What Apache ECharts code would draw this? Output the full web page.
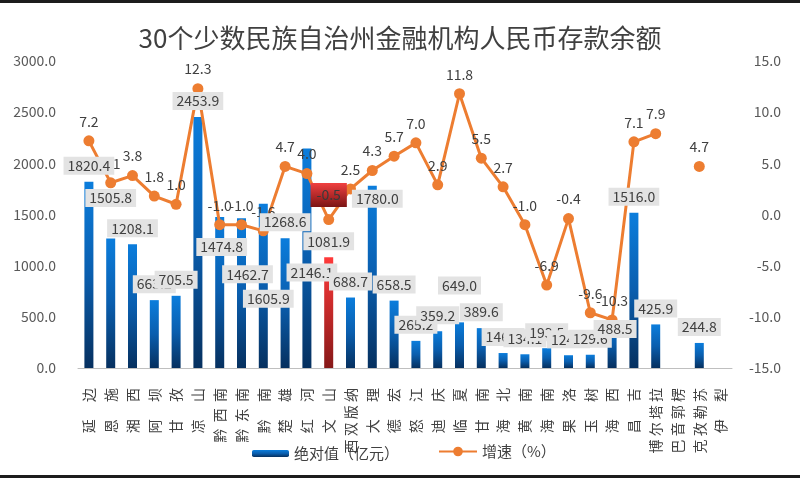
<!DOCTYPE html>
<html>
<head>
<meta charset="utf-8">
<script src="https://cdn.jsdelivr.net/npm/echarts@6/dist/echarts.min.js"></script>
<style>
html, body { margin: 0; padding: 0; background: #fff; }
#main { width: 800px; height: 478px; }
.edge { position: absolute; left: 0; width: 800px; height: 3px; background: #1c1c1c; }
</style>
</head>
<body>
<div id="main"></div>
<div class="edge" style="top:0"></div>
<div class="edge" style="top:475px"></div>
<script>
// 数据
const categories = ['延边', '恩施', '湘西', '阿坝', '甘孜', '凉山', '黔西南', '黔东南', '黔南', '楚雄',
    '红河', '文山', '西双版纳', '大理', '德宏', '怒江', '迪庆', '临夏', '甘南', '海北',
    '黄南', '海南', '果洛', '玉树', '海西', '昌吉', '博尔塔拉', '巴音郭楞', '克孜勒苏', '伊犁'];
// 柱高
const barValues = [1820.4, 1265.0, 1208.1, 663.2, 705.5, 2453.9, 1474.8, 1462.7, 1605.9, 1268.6,
    2146.1, 1081.9, 688.7, 1780.0, 658.5, 265.2, 359.2, 446.0, 389.6, 146.3,
    134.1, 193.5, 124.7, 129.6, 488.5, 1516.0, 425.9, null, 244.8, null];
// 数据标签上写的数
const labelValues = [1820.4, 1505.8, 1208.1, 663.2, 705.5, 2453.9, 1474.8, 1462.7, 1605.9, 1268.6,
    2146.1, 1081.9, 688.7, 1780.0, 658.5, 265.2, 359.2, 649.0, 389.6, 146.3,
    134.1, 193.5, 124.7, 129.6, 488.5, 1516.0, 425.9, null, 244.8, null];
// 增速 %
const growth = [7.2, 3.1, 3.8, 1.8, 1.0, 12.3, -1.0, -1.0, -1.6, 4.7,
    4.0, -0.5, 2.5, 4.3, 5.7, 7.0, 2.9, 11.8, 5.5, 2.7,
    -1.0, -6.9, -0.4, -9.6, -10.3, 7.1, 7.9, null, 4.7, null];
const leftTicks = [0, 3000, 500];
const rightTicks = [-15, 15, 5];

const highlight = '文山';
// 原图里被拖开的数据标签
const labelShift = {'黔西南': [2, 46], '黔东南': [6, 72], '黔南': [5, 111], '红河': [5, 140], '大理': [5, 29], '海西': [3, 27]};

const font = 'Noto Sans CJK SC';
const grad = (a, b) => new echarts.graphic.LinearGradient(0, 0, 0, 1, [
    {offset: 0, color: a}, {offset: 1, color: b}
]);
const blue = new echarts.graphic.LinearGradient(0, 0, 0, 1, [
    {offset: 0, color: '#0B7DDC'}, {offset: 0.5, color: '#0A5EAE'}, {offset: 1, color: '#06305F'}
]);
// 竖排标签字距
const sep = {2: '\u3000 ', 3: '  ', 4: ' '};

const barData = barValues.map((v, i) => categories[i] === highlight
    ? {value: v, itemStyle: {color: grad('#FF3A3A', '#861818')}} : v);

const labelData = labelValues.map((v, i) => {
    const s = labelShift[categories[i]];
    return s ? {value: v, label: {offset: s}} : v;
});

const lineData = growth.map((v, i) => categories[i] === highlight
    ? {value: v, label: {backgroundColor: grad('#F04040', '#7A1414'), padding: [5, 6], color: '#3a3a3a'}} : v);

const myChart = echarts.init(document.getElementById('main'), null, {renderer: 'canvas'});
const option = {
    animation: false,
    textStyle: {fontFamily: font},
    title: {
        text: '30个少数民族自治州金融机构人民币存款余额',
        left: 'center',
        top: 20,
        textStyle: {fontSize: 26, fontWeight: 'normal', color: '#404040', fontFamily: font}
    },
    legend: [{
        data: ['绝对值（亿元）'],
        left: 247, top: 441,
        itemWidth: 37, itemHeight: 7, itemGap: 30,
        textStyle: {fontSize: 15, color: '#404040', fontFamily: font}
    }, {
        data: ['增速（%）'],
        left: 433, top: 439,
        itemWidth: 38, itemHeight: 12,
        textStyle: {fontSize: 15, color: '#404040', fontFamily: font}
    }],
    grid: {left: 78, right: 68, top: 61, bottom: 110},
    xAxis: {
        type: 'category',
        data: categories,
        axisLine: {lineStyle: {color: '#BFBFBF'}},
        axisTick: {show: false},
        axisLabel: {
            interval: 0, rotate: 90, margin: 20,
            fontSize: 14, color: '#404040', fontFamily: font,
            formatter: v => v.split('').join(sep[v.length] || ' ')
        }
    },
    yAxis: [{
        type: 'value',
        min: leftTicks[0], max: leftTicks[1], interval: leftTicks[2],
        splitLine: {show: false},
        axisLine: {show: false},
        axisTick: {show: false},
        axisLabel: {margin: 22, fontSize: 14, color: '#595959', formatter: v => v.toFixed(1)}
    }, {
        type: 'value',
        min: rightTicks[0], max: rightTicks[1], interval: rightTicks[2],
        splitLine: {show: false},
        axisLine: {show: false},
        axisTick: {show: false},
        axisLabel: {margin: 49, align: 'right', fontSize: 14, color: '#595959', formatter: v => v.toFixed(1)}
    }],
    series: [{
        name: '绝对值（亿元）',
        type: 'bar',
        data: barData,
        barWidth: 9,
        barGap: '-100%',
        itemStyle: {color: blue},
        z: 2
    }, {
        name: '增速（%）',
        type: 'line',
        yAxisIndex: 1,
        data: lineData,
        connectNulls: false,
        symbol: 'circle',
        symbolSize: 11,
        showAllSymbol: true,
        itemStyle: {color: '#ED7D31'},
        lineStyle: {color: '#ED7D31', width: 3},
        label: {
            show: true, position: 'top', distance: 7,
            fontSize: 14, color: '#404040',
            formatter: p => p.value.toFixed(1)
        },
        z: 3
    }, {
        // 只用来画柱子的数据标签，放在折线上面
        name: 'labels',
        type: 'bar',
        data: labelData,
        barWidth: 9,
        barGap: '-100%',
        silent: true,
        itemStyle: {color: 'rgba(0,0,0,0)'},
        label: {
            show: true, position: 'top', distance: 7,
            fontSize: 14, color: '#404040',
            backgroundColor: '#E3E3E3', padding: [2, 4],
            formatter: p => p.value.toFixed(1)
        },
        z: 5
    }]
};
myChart.setOption(option);
</script>
</body>
</html>
